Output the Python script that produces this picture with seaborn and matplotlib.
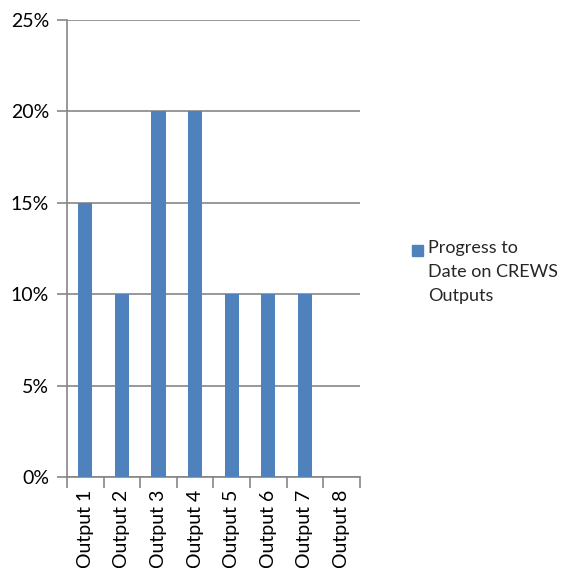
import numpy as np
import matplotlib.pyplot as plt
import seaborn as sns
from matplotlib.patches import Rectangle
from matplotlib.ticker import PercentFormatter, FixedLocator

sns.set_theme(style="white")
plt.rcParams['font.family'] = ['Lato', 'DejaVu Sans']

# Data
categories = ["Output 1", "Output 2", "Output 3", "Output 4",
              "Output 5", "Output 6", "Output 7", "Output 8"]
progress = [0.15, 0.10, 0.20, 0.20, 0.10, 0.10, 0.10, 0.0]
series_label = "Progress to\nDate on CREWS\nOutputs"

bar_color = "#4F81BD"
grid_color = "#868686"

fig = plt.figure(figsize=(5.65, 5.68), dpi=100)
ax = fig.add_axes([0.1186, 0.160, 0.518, 0.805])

sns.barplot(x=categories, y=progress, color=bar_color, saturation=1,
            width=0.39, linewidth=0, ax=ax, zorder=3)

ax.set_ylim(0, 0.25)
ax.set_xlim(-0.5, len(categories) - 0.5)
ax.yaxis.set_major_locator(FixedLocator([0, 0.05, 0.10, 0.15, 0.20, 0.25]))
ax.yaxis.set_major_formatter(PercentFormatter(1.0, decimals=0))
ax.grid(axis="y", color=grid_color, linewidth=1.2, zorder=0)
ax.set_axisbelow(True)

for side in ["top", "right"]:
    ax.spines[side].set_visible(False)
for side in ["left", "bottom"]:
    ax.spines[side].set_color(grid_color)
    ax.spines[side].set_linewidth(1.2)

ax.tick_params(axis="y", which="major", length=7, width=1.2, color=grid_color,
               direction="out", left=True, labelsize=14, pad=6, labelcolor="black")
ax.tick_params(axis="x", which="major", length=0, labelsize=14, pad=9,
               labelrotation=90, labelcolor="black")
ax.set_xticks(np.arange(-0.5, len(categories)), minor=True)
ax.tick_params(axis="x", which="minor", length=8, width=1.2, color=grid_color,
               direction="out", bottom=True)
ax.set_xlabel("")
ax.set_ylabel("")

# legend: square aligned with the first text line, as in the original
fig.patches.append(Rectangle((412 / 565, 1 - 256 / 568), 11 / 565, 11 / 568,
                             transform=fig.transFigure, color=bar_color))
fig.text(428 / 565, 1 - 240 / 568, series_label, fontsize=13, va="top",
         ha="left", linespacing=1.6)

fig.savefig("out.png", dpi=100)
